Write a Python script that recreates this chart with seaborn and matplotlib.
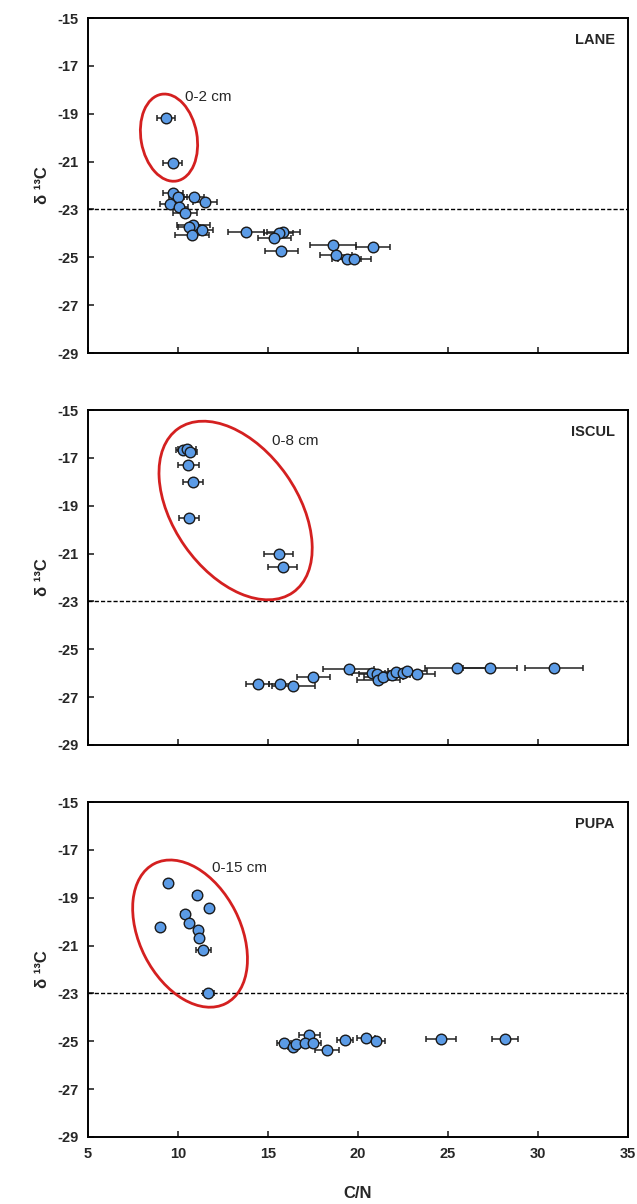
import matplotlib
matplotlib.use("Agg")
import matplotlib.pyplot as plt
import matplotlib.transforms as mtransforms
from matplotlib.patches import Ellipse
import pandas as pd
import seaborn as sns

# LANE
lane_cn = [9.32, 9.70, 9.74, 10.02, 10.90, 11.52, 9.54, 10.04, 10.39, 10.85, 10.60, 11.33,
           10.78, 13.78, 15.85, 15.59, 15.35, 15.74, 18.60, 20.82, 18.78, 19.37, 19.80]
lane_d13c = [-19.19, -21.05, -22.30, -22.46, -22.48, -22.67, -22.76, -22.91, -23.15, -23.64, -23.75, -23.86,
             -24.06, -23.93, -23.96, -24.00, -24.18, -24.74, -24.48, -24.55, -24.92, -25.08, -25.08]
lane_err = [0.50, 0.54, 0.55, 0.50, 0.57, 0.67, 0.55, 0.50, 0.65, 0.93, 0.60, 0.60,
            0.93, 1.00, 0.90, 0.80, 0.90, 0.90, 1.27, 0.95, 0.90, 0.80, 0.90]

# ISCUL
iscul_cn = [10.30, 10.52, 10.67, 10.57, 10.85, 10.63, 15.59, 15.81, 14.43, 15.67, 16.41, 17.52,
            19.48, 20.76, 21.04, 21.13, 21.41, 21.87, 22.10, 22.52, 22.74, 23.29, 25.52, 27.33, 30.90]
iscul_d13c = [-16.67, -16.64, -16.74, -17.29, -18.00, -19.51, -21.00, -21.57, -26.45, -26.46, -26.53, -26.17,
              -25.84, -26.00, -26.03, -26.28, -26.17, -26.07, -25.95, -26.00, -25.90, -26.03, -25.80, -25.80, -25.80]
iscul_err = [0.40, 0.50, 0.40, 0.58, 0.55, 0.55, 0.82, 0.80, 0.65, 0.60, 1.20, 0.90,
             1.40, 1.10, 1.00, 1.20, 1.10, 1.00, 1.20, 1.00, 1.10, 1.00, 1.80, 1.50, 1.60]

# PUPA
pupa_cn = [9.46, 11.04, 11.74, 10.39, 10.63, 9.00, 11.13, 11.18, 11.41, 11.69, 15.89, 16.40,
           16.54, 17.30, 17.06, 17.52, 18.26, 19.28, 20.44, 21.00, 24.61, 28.17]
pupa_d13c = [-18.40, -18.90, -19.42, -19.70, -20.04, -20.22, -20.37, -20.68, -21.18, -22.99, -25.08, -25.22,
             -25.12, -24.74, -25.08, -25.08, -25.36, -24.94, -24.87, -25.00, -24.89, -24.89]
pupa_err = [0.15, 0.20, 0.20, 0.20, 0.15, 0.10, 0.15, 0.20, 0.40, 0.30, 0.40, 0.30,
            0.40, 0.60, 0.40, 0.40, 0.67, 0.45, 0.50, 0.50, 0.85, 0.70]

sites = ["LANE", "ISCUL", "PUPA"]
depth_labels = ["0-2 cm", "0-8 cm", "0-15 cm"]
threshold = -23

df = pd.concat([
    pd.DataFrame({"site": "LANE", "cn": lane_cn, "d13c": lane_d13c, "err": lane_err}),
    pd.DataFrame({"site": "ISCUL", "cn": iscul_cn, "d13c": iscul_d13c, "err": iscul_err}),
    pd.DataFrame({"site": "PUPA", "cn": pupa_cn, "d13c": pupa_d13c, "err": pupa_err}),
])

# ellipse: centre (data), width/height (pixels), angle; label position (data)
ellipses = {
    "LANE": ((9.5, -20.0), 56, 88, 10, (10.4, -18.3)),
    "ISCUL": ((13.2, -19.2), 124, 200, 35, (15.2, -16.3)),
    "PUPA": ((10.67, -20.5), 101, 157, 27, (11.9, -17.75)),
}

sns.set_style("ticks")
plt.rcParams['font.family'] = ['Liberation Sans', 'DejaVu Sans']
plt.rcParams['axes.unicode_minus'] = False

fig = plt.figure(figsize=(6.37, 12.04), dpi=100)
tops = [18, 410, 802]
for i, site in enumerate(sites):
    top = tops[i]
    ax = fig.add_axes([88 / 637, 1 - (top + 335) / 1204, 540 / 637, 335 / 1204])
    sub = df[df.site == site]
    ax.axhline(threshold, color="black", ls=(0, (3, 1.5)), lw=1.0, zorder=1)
    ax.errorbar(sub.cn, sub.d13c, xerr=sub.err, fmt="none", ecolor="#222222",
                elinewidth=1.1, capsize=2.5, capthick=1.1, zorder=2)
    sns.scatterplot(data=sub, x="cn", y="d13c", ax=ax, color="#5b9be6", edgecolor="#1a1a1a",
                    linewidth=1.0, s=58, zorder=3, legend=False)

    (cx, cy), w, h, ang, (tx, ty) = ellipses[site]
    tr = fig.dpi_scale_trans + mtransforms.ScaledTranslation(cx, cy, ax.transData)
    ax.add_patch(Ellipse((0, 0), w / 100, h / 100, angle=ang, transform=tr,
                         fill=False, edgecolor="#d42020", lw=2.0, zorder=4))
    ax.text(tx, ty, depth_labels[i], fontsize=11, ha="left", va="center")
    ax.text(0.975, 0.935, site, transform=ax.transAxes, ha="right", va="center",
            fontsize=10.5, fontweight="bold")

    ax.set_xlim(5, 35)
    ax.set_ylim(-29, -15)
    ax.set_xticks(range(5, 36, 5))
    ax.set_yticks(range(-29, -14, 2))
    ax.tick_params(direction="in", length=4, width=1.2, labelsize=10.5, pad=7)
    for lab in ax.get_yticklabels() + ax.get_xticklabels():
        lab.set_fontweight("bold")
    if i < 2:
        ax.set_xticklabels([])
        ax.set_xlabel("")
    else:
        ax.set_xlabel("C/N", fontsize=12, fontweight="bold", labelpad=18)
    ax.set_ylabel("δ ¹³C", fontsize=12, fontweight="bold", labelpad=5)
    for sp in ax.spines.values():
        sp.set_visible(True)
        sp.set_linewidth(1.4)
        sp.set_color("black")

fig.savefig("out.png", dpi=100)
